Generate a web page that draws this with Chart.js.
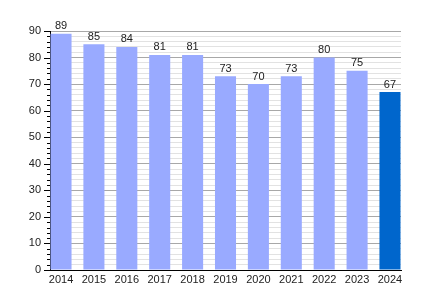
<!DOCTYPE html>
<html>
<head>
<meta charset="utf-8">
<script src="https://cdn.jsdelivr.net/npm/chart.js@4"></script>
<style>
  html, body { margin: 0; padding: 0; background: #fff; }
  #wrap { width: 430px; height: 300px; }
</style>
</head>
<body>
<div id="wrap"><canvas id="myChart" width="430" height="300"></canvas></div>
<script>
(function () {
  'use strict';

  const years = [2014, 2015, 2016, 2017, 2018, 2019, 2020, 2021, 2022, 2023, 2024];
  const values = [89, 85, 84, 81, 81, 73, 70, 73, 80, 75, 67];
  const yTicks = [0, 10, 20, 30, 40, 50, 60, 70, 80, 90];

  const barColors = years.map((y, i) => (i === years.length - 1 ? '#0066cc' : '#99aaff'));

  // value labels above each bar
  const valueLabels = {
    id: 'valueLabels',
    afterDatasetsDraw(chart) {
      const ctx = chart.ctx;
      const meta = chart.getDatasetMeta(0);
      ctx.save();
      ctx.font = '11px "Liberation Sans", Arial, sans-serif';
      ctx.fillStyle = '#222';
      ctx.textAlign = 'center';
      ctx.textBaseline = 'bottom';
      meta.data.forEach((bar, i) => {
        ctx.fillText(String(values[i]), bar.x, bar.y - 2);
      });
      ctx.restore();
    }
  };

  // y axis tick marks, long on the tens and short in between
  const yTickMarks = {
    id: 'yTickMarks',
    afterDraw(chart) {
      const ctx = chart.ctx;
      const y = chart.scales.y;
      const left = chart.chartArea.left;
      ctx.save();
      ctx.strokeStyle = '#000';
      ctx.lineWidth = 1;
      y.ticks.forEach((t) => {
        const py = Math.round(y.getPixelForValue(t.value)) + 0.5;
        const len = t.value % 10 === 0 ? 6 : 3;
        ctx.beginPath();
        ctx.moveTo(left - len, py);
        ctx.lineTo(left, py);
        ctx.stroke();
      });
      ctx.restore();
    }
  };

  const ctx = document.getElementById('myChart').getContext('2d');
  new Chart(ctx, {
    type: 'bar',
    data: {
      datasets: [
        {
          data: years.map((y, i) => ({ x: y, y: values[i] })),
          backgroundColor: barColors,
          borderWidth: 0,
          barPercentage: 0.64,
          categoryPercentage: 1
        }
      ]
    },
    options: {
      responsive: false,
      animation: false,
      layout: { padding: { left: 0, right: 29, top: 31, bottom: 10 } },
      plugins: {
        legend: { display: false },
        tooltip: { enabled: false }
      },
      scales: {
        x: {
          type: 'linear',
          offset: false,
          min: years[0] - 0.335,
          max: years[years.length - 1] + 0.335,
          afterBuildTicks: (scale) => {
            scale.ticks = years.map((v) => ({ value: v }));
          },
          afterFit: (scale) => {
            scale.height = 20;
          },
          grid: { display: false, drawTicks: false },
          border: { display: true, color: '#000', width: 1 },
          ticks: {
            autoSkip: false,
            maxRotation: 0,
            padding: 3,
            color: '#222',
            font: { family: '"Liberation Sans", Arial, sans-serif', size: 11 },
            callback: (v) => String(v)
          }
        },
        y: {
          min: 0,
          max: 90,
          afterFit: (scale) => {
            scale.width = 50;
          },
          ticks: {
            stepSize: 2,
            autoSkip: false,
            padding: 9,
            color: '#222',
            font: { family: '"Liberation Sans", Arial, sans-serif', size: 11 },
            callback: (v) => (yTicks.includes(v) ? String(v) : '')
          },
          grid: {
            drawTicks: false,
            color: (c) => (c.tick && c.tick.value % 10 === 0 ? '#a8a8a8' : '#e2e2e2')
          },
          border: { display: true, color: '#000', width: 1 }
        }
      }
    },
    plugins: [valueLabels, yTickMarks]
  });
})();
</script>
</body>
</html>
